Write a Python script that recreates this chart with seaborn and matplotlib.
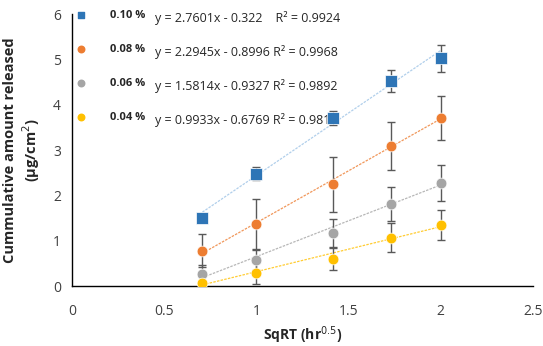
import numpy as np
import pandas as pd
import matplotlib
matplotlib.use('Agg')
import matplotlib.pyplot as plt
import seaborn as sns

# data
sqrt_t = [0.707, 1.0, 1.414, 1.732, 2.0]
series = ['0.10 %', '0.08 %', '0.06 %', '0.04 %']
amount_010 = [1.50, 2.48, 3.71, 4.52, 5.02]
amount_008 = [0.78, 1.37, 2.24, 3.08, 3.71]
amount_006 = [0.26, 0.57, 1.16, 1.81, 2.28]
amount_004 = [0.06, 0.29, 0.60, 1.07, 1.34]
err_010 = [0.05, 0.15, 0.15, 0.25, 0.30]
err_008 = [0.37, 0.55, 0.60, 0.53, 0.48]
err_006 = [0.20, 0.22, 0.31, 0.38, 0.40]
err_004 = [0.05, 0.24, 0.24, 0.33, 0.33]
slopes = [2.7601, 2.2945, 1.5814, 0.9933]
intercepts = [-0.322, -0.8996, -0.9327, -0.6769]
equations = ['y = 2.7601x - 0.322    R² = 0.9924',
             'y = 2.2945x - 0.8996 R² = 0.9968',
             'y = 1.5814x - 0.9327 R² = 0.9892',
             'y = 0.9933x - 0.6769 R² = 0.9817']

colors = ['#2E75B6', '#ED7D31', '#A5A5A5', '#FFC000']
trend_colors = ['#9DC3E6', '#ED7D31', '#A5A5A5', '#FFC000']
markers = ['s', 'o', 'o', 'o']
sizes = [85, 60, 60, 60]

amounts = [amount_010, amount_008, amount_006, amount_004]
errs = [err_010, err_008, err_006, err_004]

sns.set_style('white')
plt.rcParams['font.family'] = ['Open Sans', 'DejaVu Sans']

fig = plt.figure(figsize=(5.43, 3.46), dpi=100)
ax = fig.add_axes([0.1326, 0.1734, 0.849, 0.786])

rows = []
for name, ys, es in zip(series, amounts, errs):
    for x, y, e in zip(sqrt_t, ys, es):
        rows.append({'sqrt_t': x, 'amount': y, 'err': e, 'series': name})
df = pd.DataFrame(rows)

for i, name in enumerate(series):
    d = df[df['series'] == name]
    # trendline from the fitted equation
    fit = pd.DataFrame({'x': [sqrt_t[0], sqrt_t[-1]]})
    fit['y'] = slopes[i] * fit['x'] + intercepts[i]
    sns.lineplot(data=fit, x='x', y='y', ax=ax, color=trend_colors[i],
                 linestyle=(0, (2, 1)), linewidth=0.9, alpha=0.8)
    ax.errorbar(d['sqrt_t'], d['amount'], yerr=d['err'], fmt='none',
                ecolor='#595959', elinewidth=1, capsize=3, capthick=1, zorder=3)
    sns.scatterplot(data=d, x='sqrt_t', y='amount', ax=ax, color=colors[i],
                    marker=markers[i], s=sizes[i], edgecolor='white',
                    linewidth=0.5, zorder=4)

# legend-like labels with equations
row_y = [0.996, 0.871, 0.746, 0.621]
for i, name in enumerate(series):
    ax.scatter([0.02], [row_y[i]], transform=ax.transAxes, marker=markers[i],
               s=22, color=colors[i], clip_on=False, zorder=5)
    ax.text(0.082, row_y[i], name, transform=ax.transAxes, fontsize=8,
            fontweight='bold', va='center', ha='left')
    ax.text(0.18, row_y[i] - 0.012, equations[i], transform=ax.transAxes,
            fontsize=9, va='center', ha='left', color='#262626')

ax.set_xlim(0, 2.5)
ax.set_ylim(0, 6)
ax.set_xticks([0, 0.5, 1, 1.5, 2, 2.5])
ax.set_xticklabels(['0', '0.5', '1', '1.5', '2', '2.5'])
ax.set_yticks(range(0, 7))
ax.tick_params(axis='y', length=0, labelsize=10, pad=8, colors='#404040')
ax.tick_params(axis='x', length=0, labelsize=10, pad=13, colors='#404040')
for s in ['top', 'right']:
    ax.spines[s].set_visible(False)
for s in ['left', 'bottom']:
    ax.spines[s].set_color('black')
    ax.spines[s].set_linewidth(1)

ax.set_xlabel('SqRT (hr$^{0.5}$)', fontsize=10, fontweight='bold', labelpad=4)
ax.set_ylabel('Cummulative amount released\n(µg/cm$^{2}$)', fontsize=10.5,
              fontweight='bold', labelpad=8)

fig.savefig('out.png', dpi=100)
